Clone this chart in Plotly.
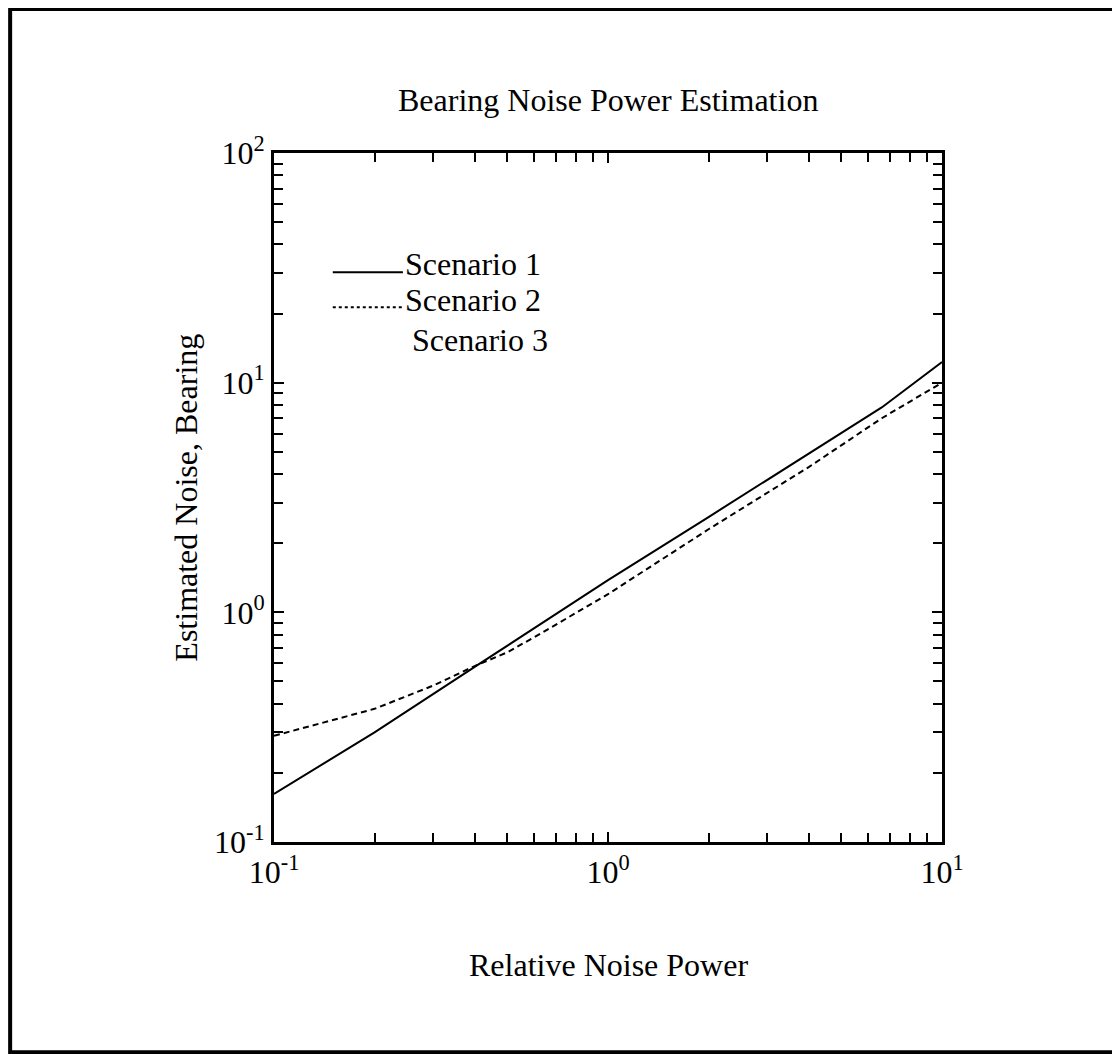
"""Bearing noise power estimation chart, rebuilt with Plotly."""

import plotly.graph_objects as go

# Data (log-log axes)
relative_power_s1 = [0.1, 0.2, 0.4, 0.7, 1.0, 2.0, 4.0, 6.6, 10.0]
estimated_noise_s1 = [0.162, 0.30, 0.58, 0.99, 1.38, 2.6, 4.9, 7.8, 12.3]

relative_power_s2 = [0.1, 0.15, 0.2, 0.3, 0.4, 0.5, 0.63, 1.0, 2.0, 4.0, 6.6, 10.0]
estimated_noise_s2 = [0.29, 0.34, 0.38, 0.48, 0.585, 0.67, 0.81, 1.2, 2.3, 4.3, 7.0, 10.0]

scenario_names = ["Scenario 1", "Scenario 2", "Scenario 3"]

x_tickvals = [0.1, 1, 10]
x_ticktext = ["10<sup>-1</sup>", "10<sup>0</sup>", "10<sup>1</sup>"]
y_tickvals = [0.1, 1, 10, 100]
y_ticktext = ["10<sup>-1</sup>", "10<sup>0</sup>", "10<sup>1</sup>", "10<sup>2</sup>"]

FONT = "Liberation Serif, Times New Roman, serif"
TEXT_SIZE = 32


def minor_ticks(lo_exp, hi_exp):
    """Return 2..9 multiples of each decade between the two exponents."""
    vals = []
    for e in range(lo_exp, hi_exp):
        for m in range(2, 10):
            vals.append(m * 10 ** e)
    return vals


def text_font():
    return dict(family=FONT, size=TEXT_SIZE, color="black")


fig = go.Figure()

fig.add_trace(
    go.Scatter(
        x=relative_power_s1,
        y=estimated_noise_s1,
        mode="lines",
        name=scenario_names[0],
        line=dict(color="black", width=2),
    )
)
fig.add_trace(
    go.Scatter(
        x=relative_power_s2,
        y=estimated_noise_s2,
        mode="lines",
        name=scenario_names[1],
        line=dict(color="black", width=2, dash="6px,4px"),
    )
)

axis_common = dict(
    type="log",
    showline=True,
    linecolor="black",
    linewidth=3,
    mirror="ticks",
    ticks="inside",
    ticklen=10,
    tickwidth=2,
    tickcolor="black",
    showgrid=False,
    zeroline=False,
    tickmode="array",
    tickfont=text_font(),
)

fig.update_xaxes(
    **axis_common,
    range=[-1, 1],
    tickvals=x_tickvals,
    ticktext=x_ticktext,
    minor=dict(
        ticks="inside",
        ticklen=9,
        tickwidth=2,
        tickcolor="black",
        tickmode="array",
        tickvals=minor_ticks(-1, 1),
        showgrid=False,
    ),
)
fig.update_yaxes(
    **axis_common,
    range=[-1, 2],
    tickvals=y_tickvals,
    ticktext=y_ticktext,
    minor=dict(
        ticks="inside",
        ticklen=9,
        tickwidth=2,
        tickcolor="black",
        tickmode="array",
        tickvals=minor_ticks(-1, 2),
        showgrid=False,
    ),
)

# Hand-drawn style legend: sample line followed by the label
legend_rows = [
    (scenario_names[0], 0.839, 0.827, "solid", 0.193),
    (scenario_names[1], 0.787, 0.776, "dot", 0.193),
    (scenario_names[2], 0.729, None, None, 0.204),
]
shapes = []
annotations = []
for name, text_y, line_y, dash, text_x in legend_rows:
    annotations.append(
        dict(
            x=text_x, y=text_y, xref="paper", yref="paper",
            text=name, showarrow=False, xanchor="left", yanchor="middle",
            font=text_font(),
        )
    )
    if line_y is not None:
        shapes.append(
            dict(
                type="line", xref="paper", yref="paper",
                x0=0.088, x1=0.193, y0=line_y, y1=line_y,
                line=dict(color="black", width=2, dash=dash),
            )
        )

# Outer frame around the whole figure
shapes.append(
    dict(
        type="rect", xref="paper", yref="paper",
        x0=-0.395, x1=1.2605, y0=-0.305, y1=1.209,
        line=dict(color="black", width=4),
    )
)

annotations += [
    dict(
        x=0.5, y=1.077, xref="paper", yref="paper",
        text="Bearing Noise Power Estimation", showarrow=False,
        xanchor="center", yanchor="middle", font=text_font(),
    ),
    dict(
        x=0.5, y=-0.1785, xref="paper", yref="paper",
        text="Relative Noise Power", showarrow=False,
        xanchor="center", yanchor="middle", font=text_font(),
    ),
    dict(
        x=-0.133, y=0.5, xref="paper", yref="paper",
        text="Estimated Noise, Bearing", showarrow=False, textangle=-90,
        xanchor="center", yanchor="middle", font=text_font(),
    ),
]

# The page body adds an 8px margin, so the figure is 8px smaller
fig.update_layout(
    width=1112,
    height=1046,
    margin=dict(l=266, r=178, t=145, b=212),
    paper_bgcolor="white",
    plot_bgcolor="white",
    showlegend=False,
    shapes=shapes,
    annotations=annotations,
    font=text_font(),
)

fig.write_html("out.html")
